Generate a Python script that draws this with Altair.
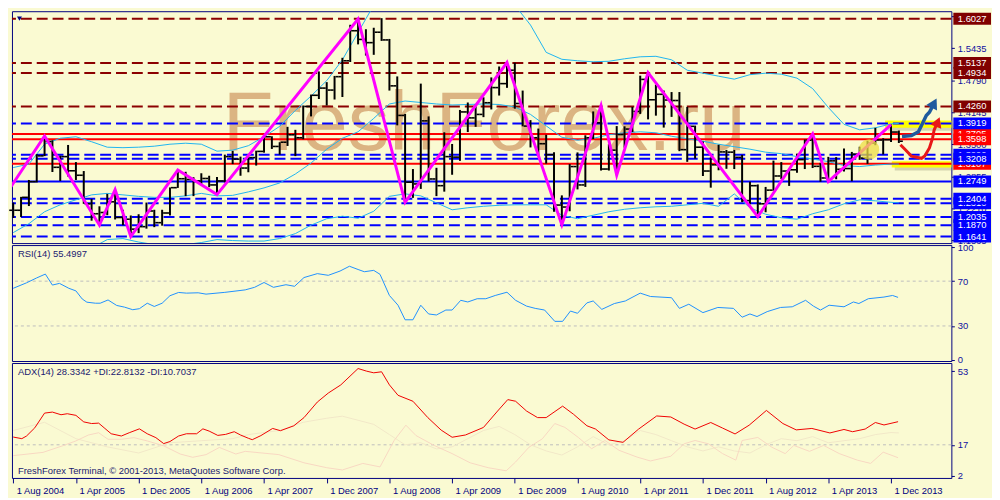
import altair as alt
import pandas as pd

# ---------------- data (EUR/USD, monthly bars, index 0 = Aug 2004) ----------------
bar_index = list(range(114))
opens = [1.2170,1.2170,1.2430,1.2745,1.3265,1.3555,1.3035,1.3250,1.2965,1.2875,
         1.2300,1.2100,1.2125,1.2340,1.2025,1.1990,1.1790,1.1840,1.2155,1.1920,
         1.2115,1.2625,1.2805,1.2790,1.2760,1.2810,1.2680,1.2760,1.3250,1.3200,
         1.3020,1.3230,1.3355,1.3650,1.3455,1.3540,1.3690,1.3630,1.4260,1.4485,
         1.4630,1.4590,1.4860,1.5180,1.5785,1.5610,1.5545,1.5755,1.5600,1.4675,
         1.4080,1.2735,1.2700,1.3970,1.2800,1.2665,1.3250,1.3240,1.4150,1.4030,
         1.4100,1.4335,1.4640,1.4720,1.4990,1.4320,1.3865,1.3630,1.3510,1.3290,
         1.2275,1.2235,1.3050,1.2680,1.3630,1.3930,1.3000,1.3380,1.3695,1.3805,
         1.4160,1.4805,1.4395,1.4505,1.4390,1.4380,1.3390,1.3860,1.3440,1.2960,
         1.3085,1.3345,1.3340,1.3235,1.2365,1.2665,1.2300,1.2575,1.2860,1.2960,
         1.2985,1.3190,1.3580,1.3055,1.2820,1.3165,1.2995,1.3010,1.3300,1.3220,
         1.3525,1.3585,1.3590,1.3745]
highs = [1.2325,1.2440,1.2780,1.3300,1.3667,1.3580,1.3270,1.3485,1.3140,1.2960,
         1.2400,1.2250,1.2500,1.2585,1.2180,1.2065,1.2090,1.2325,1.2180,1.2180,
         1.2630,1.2980,1.2945,1.2835,1.2915,1.2865,1.2840,1.3290,1.3365,1.3250,
         1.3250,1.3370,1.3680,1.3660,1.3540,1.3850,1.3790,1.4280,1.4500,1.4965,
         1.4750,1.4875,1.5240,1.5905,1.6019,1.5815,1.5845,1.6038,1.5620,1.4865,
         1.4110,1.3000,1.4720,1.4060,1.3025,1.3740,1.3505,1.4190,1.4340,1.4300,
         1.4445,1.4845,1.5065,1.5145,1.5140,1.4580,1.3985,1.3815,1.3690,1.3340,
         1.2470,1.3100,1.3335,1.3680,1.4160,1.4280,1.3500,1.3865,1.3860,1.4250,
         1.4880,1.4940,1.4700,1.4580,1.4550,1.4550,1.4250,1.3875,1.3555,1.3235,
         1.3490,1.3385,1.3385,1.3285,1.2745,1.2690,1.2640,1.3170,1.3140,1.3010,
         1.3310,1.3595,1.3710,1.3125,1.3245,1.3240,1.3415,1.3345,1.3450,1.3570,
         1.3830,1.3620,1.3895,1.3775]
lows = [1.2015,1.2035,1.2255,1.2730,1.3260,1.2940,1.2760,1.2850,1.2780,1.2300,
        1.1960,1.1870,1.2070,1.1985,1.1870,1.1640,1.1710,1.1800,1.1830,1.1860,
        1.2065,1.2620,1.2455,1.2455,1.2700,1.2635,1.2485,1.2730,1.3100,1.2865,
        1.2935,1.3070,1.3330,1.3405,1.3290,1.3465,1.3260,1.3600,1.4060,1.4410,
        1.4280,1.4400,1.4450,1.5155,1.5510,1.5285,1.5300,1.5580,1.4580,1.3880,
        1.2330,1.2420,1.2600,1.2750,1.2455,1.2545,1.2885,1.3165,1.3745,1.3850,
        1.4045,1.4200,1.4480,1.4635,1.4215,1.3860,1.3435,1.3265,1.3110,1.2140,
        1.1875,1.2150,1.2590,1.2640,1.3605,1.2970,1.2970,1.2875,1.3430,1.3745,
        1.4110,1.4000,1.4075,1.3835,1.4050,1.3360,1.3145,1.3210,1.2860,1.2625,
        1.2975,1.3005,1.3000,1.2335,1.2290,1.2040,1.2130,1.2560,1.2800,1.2660,
        1.2925,1.3000,1.3020,1.2745,1.2745,1.2795,1.2950,1.2755,1.3185,1.3105,
        1.3480,1.3295,1.3545,1.3525]
closes = [1.2170,1.2430,1.2745,1.3265,1.3555,1.3035,1.3250,1.2965,1.2875,1.2300,
          1.2100,1.2125,1.2340,1.2025,1.1990,1.1790,1.1840,1.2155,1.1920,1.2115,
          1.2625,1.2805,1.2790,1.2760,1.2810,1.2680,1.2760,1.3250,1.3200,1.3020,
          1.3230,1.3355,1.3650,1.3455,1.3540,1.3690,1.3630,1.4260,1.4485,1.4630,
          1.4590,1.4860,1.5180,1.5785,1.5610,1.5545,1.5755,1.5600,1.4675,1.4080,
          1.2735,1.2700,1.3970,1.2800,1.2665,1.3250,1.3240,1.4150,1.4030,1.4100,
          1.4335,1.4640,1.4720,1.4990,1.4320,1.3865,1.3630,1.3510,1.3290,1.2275,
          1.2235,1.3050,1.2680,1.3630,1.3930,1.3000,1.3380,1.3695,1.3805,1.4160,
          1.4805,1.4395,1.4505,1.4390,1.4380,1.3390,1.3860,1.3440,1.2960,1.3085,
          1.3345,1.3340,1.3235,1.2365,1.2665,1.2300,1.2575,1.2860,1.2960,1.2985,
          1.3190,1.3580,1.3055,1.2820,1.3165,1.2995,1.3010,1.3300,1.3220,1.3525,
          1.3585,1.3590,1.3745,1.3560]

zigzag_idx = [-4, 4, 11, 13, 15, 21, 26, 44, 50, 63, 70, 75, 77, 81, 95, 102, 104, 112]
zigzag_price = [1.1760, 1.3667, 1.1870, 1.2585, 1.1640, 1.2980, 1.2485, 1.6019, 1.2330,
                1.5145, 1.1875, 1.4280, 1.2875, 1.4940, 1.2040, 1.3710, 1.2745, 1.3895]

bb_idx = [0,2,4,6,8,10,12,14,16,18,20,22,24,26,28,30,32,34,36,38,40,42,44,46,48,50,52,54,56,
          58,60,62,64,66,68,70,72,74,76,78,80,82,84,86,88,90,92,94,96,98,100,102,104,106,108,
          110,112,113]
bb_upper = [1.303,1.310,1.350,1.362,1.365,1.355,1.344,1.343,1.344,1.346,1.350,1.352,1.350,1.336,
            1.338,1.347,1.365,1.386,1.418,1.447,1.478,1.520,1.575,1.630,1.660,1.690,1.705,1.710,
            1.705,1.695,1.680,1.655,1.630,1.590,1.535,1.521,1.518,1.516,1.517,1.522,1.526,1.527,
            1.520,1.499,1.493,1.487,1.481,1.490,1.493,1.491,1.483,1.462,1.424,1.390,1.379,1.383,
            1.391,1.392]
bb_middle = [1.172,1.190,1.214,1.228,1.238,1.248,1.251,1.248,1.245,1.243,1.243,1.246,1.251,1.246,
             1.247,1.254,1.262,1.272,1.290,1.312,1.340,1.362,1.375,1.402,1.431,1.437,1.434,1.431,
             1.429,1.430,1.431,1.430,1.425,1.410,1.387,1.364,1.358,1.362,1.369,1.373,1.375,1.373,
             1.366,1.361,1.356,1.350,1.345,1.340,1.334,1.331,1.325,1.320,1.315,1.307,1.305,1.308,
             1.310,1.310]
bb_lower = [1.041,1.070,1.078,1.094,1.111,1.141,1.158,1.160,1.153,1.148,1.145,1.148,1.152,1.158,
            1.156,1.155,1.155,1.160,1.170,1.187,1.200,1.205,1.201,1.215,1.245,1.250,1.246,1.232,
            1.218,1.222,1.225,1.227,1.228,1.228,1.228,1.207,1.200,1.207,1.214,1.219,1.222,1.224,
            1.225,1.228,1.231,1.225,1.250,1.222,1.209,1.202,1.199,1.210,1.218,1.230,1.238,1.236,
            1.233,1.232]

levels_darkred_dash = [1.6027, 1.5137, 1.4934, 1.4260]
levels_blue_dash = [1.3919, 1.3290, 1.3208, 1.2404, 1.2310, 1.2035, 1.1870, 1.1641]
levels_red_solid = [1.3705, 1.3598, 1.3107]
levels_blue_solid = [1.2749]

tag_back_price = [1.3705, 1.3290, 1.3107, 1.2310]
tag_back_kind = ["red", "blue", "red", "blue"]
tag_front_price = [1.6027, 1.5137, 1.4934, 1.4260, 1.3919, 1.3598, 1.3208, 1.2749,
                   1.2404, 1.2035, 1.1870, 1.1641]
tag_front_kind = ["darkred", "darkred", "darkred", "darkred", "blue", "red", "blue", "blue",
                  "blue", "blue", "blue", "blue"]

price_axis_values = [1.6080, 1.5435, 1.4790, 1.4145, 1.3500, 1.2855, 1.2210, 1.1565]

# yellow highlight zones and hand-drawn forecast arrows
zone_i1 = [111.25, 112.1]
zone_i2 = [119.7, 119.7]
zone_top = [1.3975, 1.3158]
zone_bottom = [1.3830, 1.3030]
blob_i = [109.2]
blob_price = [1.3393]
blue_arrow_i = [113.4, 114.6, 115.5, 116.1, 116.5, 116.9, 117.5]
blue_arrow_p = [1.3654, 1.3673, 1.3752, 1.3948, 1.4079, 1.4144, 1.4328]
red_arrow_i = [113.2, 113.8, 114.6, 115.9, 116.3, 116.9, 117.3, 117.5, 117.96]
red_arrow_p = [1.3491, 1.3393, 1.3261, 1.3216, 1.3261, 1.3425, 1.3622, 1.3785, 1.3948]

rsi_idx = [0,1.7,3,4.1,5,5.9,7.1,8,8.8,9.4,10.5,11.1,12.1,13.2,14.2,15.25,16.1,17.1,18,19,
           20,21.1,22.1,23.6,24.6,27,29.6,30.8,32,33.2,34.8,35.9,37.1,38.8,40.2,41.7,42.9,44,
           44.8,46,46.8,48,49.1,50,51,52,53,54,55.2,56,57.1,58,59.2,60.3,61.5,63,64.1,65.5,66.6,
           67.8,69.1,70.1,71.1,72,73.2,74,75.1,76.7,78.1,80,81.3,84,85,86.2,88,89.9,91.9,93,94,
           94.9,96.2,97.9,99.4,101.1,102.1,103,104.1,106,107.2,107.9,109.1,111.1,112.2,112.9]
rsi_vals = [63.6,68.5,72.9,76.3,66.5,68,63.6,61.3,54.1,51.2,50.3,50.3,53.2,48.3,46.8,44.5,45.4,
            50.3,47.4,50.3,57,59.9,59.3,59.6,58.4,60,62.2,64.5,68.8,64.5,66.8,65.4,73.2,76.7,
            75.2,79,83.3,80.4,78.4,79.6,76.1,57.2,48.5,35.5,35.5,48.5,40.7,39.8,44.2,44.2,52.9,
            51.4,54.3,54.3,57.2,60.1,52.9,47.7,45.7,44.2,34.1,34.1,43.3,41.3,50.6,52.3,44.8,50,
            52.3,59.3,56.3,55.2,45.7,49.4,41.9,46.5,45.7,37.8,40.7,38.4,42.8,46.5,47.1,52.9,
            47.7,44.2,48.5,47.1,51.4,50,54.3,55.8,57.2,55.5]

adx_idx = [0,1.1,1.7,2.75,4,5,6.1,6.9,8,9,10,10.9,11.7,12.5,13.8,14.8,16.1,17.1,18.2,19.2,
           20,21.1,22.1,23.4,24.2,25,26.1,27.1,28.2,29,30,30.5,31.6,33.1,34.1,35.8,37.1,38.8,
           40.2,41.8,44,45.1,46,47,48,49.1,51,52.9,54.6,56,57.7,60,61.8,63.1,64.1,65.5,66.9,68,
           70.1,71.5,73.2,74.3,76,77.8,79.8,82.1,83.9,85.6,87,89,90.5,92.1,93.9,96.1,98.2,99.9,
           101.9,104.2,106,107.1,108.7,110,111.1,112.9]
adx_vals = [20.8,20,21.3,25.3,32.5,33,31.7,32.2,31.4,28.2,27.4,27.6,25,22.4,21.3,22.9,24.8,22.4,
            20.5,17.6,18.6,21.3,22.4,22.4,24.8,23.7,21.6,22.1,23.4,21.8,20.2,19.5,21.5,25,23.9,
            26.3,30.3,37.9,42.3,46.3,54.3,53,52.2,52.7,46.3,41.2,38.3,30.3,24.2,20.7,21.8,25.5,
            33.5,39.1,38.3,33.5,30.3,30.3,35.9,31.9,26.3,24.7,19.4,18.2,24.7,31.1,30.6,27.1,
            24.7,27.9,25.2,22.3,26.6,33.8,27.4,24.3,25,22.8,24.5,23.4,24.7,27.9,26.7,28.3]

mdi_idx = [0,3.8,6.3,8,9.6,10.9,12.1,13.8,15.4,17.1,19.2,21.3,22.9,24.6,26.3,28.4,29.6,33.9,
           37.1,40,42,44.6,46.8,48.6,50.1,51.4,53.7,56,58.3,60.6,62.9,64.1,65.8,67.5,69.1,70.4,
           72.1,73.8,75.5,77.3,79.6,81.3,83.9,85.6,87,88.7,90.5,92.2,93,95,96.8,98.5,99.6,101.6,
           103.4,105.4,107.7,109.4,111,112.9]
mdi_vals = [11.7,13.3,16.5,18.9,21.8,22.9,19.7,19.7,20.5,18.9,16.5,12.5,10.9,12.2,15.7,12.5,
            13.8,12.2,8.2,5.8,4.7,7.9,6.2,19.1,26.6,21.5,16.7,12.7,8.2,5.8,4.3,8.6,15.8,19.9,
            27.4,25.5,20.6,15.1,19.1,14.3,11,9.1,11.4,17.5,19.1,17.5,12.7,9.5,19.1,20.6,15.8,
            12.7,16.7,13.8,16.7,12.7,9.5,7.9,13.4,10.7]
pdi_idx = [0,4,8,12,16,20,24,28,30,34,37,40,42,44,46,48,50,52,54,56,58,60,62,64,66,68,70,72,
           74,76,78,80,82,84,86,88,90,92,94,96,98,100,102,104,106,108,110,112,113]
pdi_vals = [24,28,20,16,13,18,19,20,22,24,28,30,31,29,27,22,17,18,15,16,20,24,26,22,17,14,12,
            16,21,17,19,24,22,19,16,14,16,14,13,17,20,19,21,18,19,20,22,23,22.8]

x_tick_idx = list(range(0, 113, 8))
x_tick_labels = ["1 Aug 2004", "1 Apr 2005", "1 Dec 2005", "1 Aug 2006", "1 Apr 2007",
                 "1 Dec 2007", "1 Aug 2008", "1 Apr 2009", "1 Dec 2009", "1 Aug 2010",
                 "1 Apr 2011", "1 Dec 2011", "1 Aug 2012", "1 Apr 2013", "1 Dec 2013"]

rsi_title = "RSI(14) 55.4997"
adx_title = "ADX(14) 28.3342 +DI:22.8132 -DI:10.7037"
footer = "FreshForex Terminal, \u00a9 2001-2013, MetaQuotes Software Corp."
watermark = "FreshForex.ru"

# ---------------- styling ----------------
W, H1, H2, H3 = 948, 234, 117, 116
FONT = "Liberation Sans"
NAVY = "#000080"
BG = "#FAFAD2"

xscale = alt.Scale(domain=[-0.16, 119.7], nice=False, zero=False)
label_expr = "[" + ",".join("'" + s + "'" for s in x_tick_labels) + "][round(datum.value/8)]"
x_axis = alt.Axis(values=x_tick_idx, labelExpr=label_expr, orient="bottom", domain=False,
                  grid=False, ticks=True, tickSize=5, tickColor=NAVY, labelColor=NAVY,
                  labelAlign="left", labelBaseline="top", labelOffset=3, labelPadding=3,
                  labelFont=FONT, labelFontSize=9.5, labelOverlap=False, labelBound=False,
                  labelFlush=False, title=None)


def X(field, show=False):
    return alt.X(f"{field}:Q", scale=xscale, axis=x_axis if show else None, title=None)


pscale = alt.Scale(domain=[1.1509, 1.6178], nice=False, zero=False)
p_axis = alt.Axis(values=price_axis_values, format=".4f", orient="right", domain=False,
                  grid=False, tickSize=3, tickColor=NAVY, labelColor="#1010A0", labelFont=FONT,
                  labelFontSize=9.5, labelPadding=3, labelFlush=False, labelBound=False,
                  labelOverlap=False, title=None, zindex=0)


def PY(field):
    return alt.Y(f"{field}:Q", scale=pscale, axis=p_axis, title=None)


# ---------------- price panel ----------------
ohlc = pd.DataFrame({"i": bar_index, "o": opens, "h": highs, "l": lows, "c": closes})
zz = pd.DataFrame({"i": zigzag_idx, "p": zigzag_price})
bb = pd.concat([
    pd.DataFrame({"i": bb_idx, "p": bb_upper, "band": "upper"}),
    pd.DataFrame({"i": bb_idx, "p": bb_middle, "band": "middle"}),
    pd.DataFrame({"i": bb_idx, "p": bb_lower, "band": "lower"}),
])

wm = alt.Chart(pd.DataFrame({"i": [26.75], "p": [1.3393], "t": [watermark]})).mark_text(
    align="left", baseline="alphabetic", font=FONT, fontSize=84, color="#DBB482"
).encode(x=X("i"), y=PY("p"), text="t:N")


def level_layer(vals, color, dash):
    kw = dict(color=color, strokeWidth=2)
    if dash:
        kw["strokeDash"] = [11, 5]
    return alt.Chart(pd.DataFrame({"p": vals})).mark_rule(**kw).encode(y=PY("p"))


lv1 = level_layer(levels_darkred_dash, "#8B0000", True)
lv2 = level_layer(levels_blue_dash, "#0000FF", True)
lv3 = level_layer(levels_red_solid, "#FF0000", False)
lv4 = level_layer(levels_blue_solid, "#0000FF", False)

zone_df = pd.DataFrame({"a": zone_i1, "b": zone_i2, "t": zone_top, "u": zone_bottom})
zone_shadow = alt.Chart(zone_df).mark_rect(
    color="#8C8C70", opacity=0.35, xOffset=3, x2Offset=3, yOffset=3, y2Offset=3
).encode(x=X("a"), x2="b:Q", y=PY("t"), y2="u:Q")
zones = alt.Chart(zone_df).mark_rect(color="#FFFF00", opacity=1).encode(
    x=X("a"), x2="b:Q", y=PY("t"), y2="u:Q")

blob = alt.Chart(pd.DataFrame({"i": blob_i, "p": blob_price})).mark_point(
    shape="circle", filled=True, color="#EEDD44", opacity=0.75, size=420
).encode(x=X("i"), y=PY("p"))

bands = alt.Chart(bb).mark_line(color="#1EB4F0", strokeWidth=1, clip=True).encode(
    x=X("i"), y=PY("p"), detail="band:N")

hl = alt.Chart(ohlc).mark_rule(color="black", strokeWidth=2).encode(
    x=X("i"), y=PY("l"), y2="h:Q")
op = alt.Chart(ohlc).mark_tick(orient="horizontal", color="black", size=3, thickness=1.6,
                               opacity=1, xOffset=-2.5).encode(x=X("i"), y=PY("o"))
cl = alt.Chart(ohlc).mark_tick(orient="horizontal", color="black", size=3, thickness=1.6,
                               opacity=1, xOffset=2.5).encode(x=X("i"), y=PY("c"))

zig = alt.Chart(zz).mark_line(color="#FF00FF", strokeWidth=3, clip=True).encode(
    x=X("i"), y=PY("p"))

blue_arr = alt.Chart(pd.DataFrame({"i": blue_arrow_i, "p": blue_arrow_p})).mark_line(
    color="#1F5A9E", strokeWidth=3.5).encode(x=X("i"), y=PY("p"))
blue_head = alt.Chart(pd.DataFrame({"i": blue_arrow_i[-1:], "p": blue_arrow_p[-1:]})).mark_point(
    shape="triangle-up", filled=True, color="#1F5A9E", opacity=1, size=150, angle=28
).encode(x=X("i"), y=PY("p"))
red_arr = alt.Chart(pd.DataFrame({"i": red_arrow_i, "p": red_arrow_p})).mark_line(
    color="#E81818", strokeWidth=3).encode(x=X("i"), y=PY("p"))
red_head = alt.Chart(pd.DataFrame({"i": red_arrow_i[-1:], "p": red_arrow_p[-1:]})).mark_point(
    shape="triangle-up", filled=True, color="#E81818", opacity=1, size=140, angle=22
).encode(x=X("i"), y=PY("p"))

marker = alt.Chart(pd.DataFrame({"i": [0.8], "p": [1.6027]})).mark_point(
    shape="triangle-down", filled=True, color=NAVY, opacity=1, size=25
).encode(x=X("i"), y=PY("p"))

tag_scale = alt.Scale(domain=["darkred", "red", "blue"], range=["#800000", "#FF0000", "#0000FF"])


def tag_layers(prices, kinds):
    d = pd.DataFrame({"p": prices, "k": kinds})
    box = alt.Chart(d).mark_tick(orient="horizontal", size=38, thickness=12, opacity=1).encode(
        x=alt.value(W + 21), y=PY("p"), color=alt.Color("k:N", scale=tag_scale, legend=None))
    txt = alt.Chart(d).mark_text(align="center", baseline="middle", color="white", font=FONT,
                                 fontSize=9.5).encode(
        x=alt.value(W + 21), y=PY("p"), text=alt.Text("p:Q", format=".4f"))
    return [box, txt]


price_panel = alt.layer(
    wm, zone_shadow, zones, lv1, lv2, lv3, lv4, bands, hl, op, cl, zig, blob,
    blue_arr, blue_head, red_arr, red_head, marker,
    *tag_layers(tag_back_price, tag_back_kind),
    *tag_layers(tag_front_price, tag_front_kind),
).properties(width=W, height=H1)

# ---------------- RSI panel ----------------
rscale = alt.Scale(domain=[-1.3, 102.2], nice=False, zero=False)
r_axis = alt.Axis(values=[0, 30, 70, 100], orient="right", domain=False, grid=False, tickSize=3,
                  tickColor=NAVY, labelColor="#1010A0", labelFont=FONT, labelFontSize=9.5,
                  labelPadding=3, labelFlush=True, labelOverlap=False, title=None)


def RY(field):
    return alt.Y(f"{field}:Q", scale=rscale, axis=r_axis, title=None)


rsi_levels = alt.Chart(pd.DataFrame({"v": [70, 30]})).mark_rule(
    color="#BDBDBD", strokeDash=[3, 3], strokeWidth=1).encode(y=RY("v"))
rsi_line = alt.Chart(pd.DataFrame({"i": rsi_idx, "v": rsi_vals})).mark_line(
    color="#1E90FF", strokeWidth=1).encode(x=X("i"), y=RY("v"))
rsi_txt = alt.Chart(pd.DataFrame({"t": [rsi_title]})).mark_text(
    align="left", baseline="middle", font=FONT, fontSize=9.5, color="#202070").encode(
    x=alt.value(6), y=alt.value(9), text="t:N")
rsi_panel = alt.layer(rsi_levels, rsi_line, rsi_txt).properties(width=W, height=H2)

# ---------------- ADX panel ----------------
ascale = alt.Scale(domain=[0.8, 57], nice=False, zero=False)
a_axis = alt.Axis(values=[2, 17, 53], orient="right", domain=False, grid=False, tickSize=3,
                  tickColor=NAVY, labelColor="#1010A0", labelFont=FONT, labelFontSize=9.5,
                  labelPadding=3, labelFlush=False, labelOverlap=False, title=None)


def AY(field):
    return alt.Y(f"{field}:Q", scale=ascale, axis=a_axis, title=None)


adx_level = alt.Chart(pd.DataFrame({"v": [17]})).mark_rule(
    color="#BDBDBD", strokeDash=[3, 3], strokeWidth=1).encode(y=AY("v"))
pdi_line = alt.Chart(pd.DataFrame({"i": pdi_idx, "v": pdi_vals})).mark_line(
    color="#F2E8C8", strokeWidth=1).encode(x=X("i", True), y=AY("v"))
mdi_line = alt.Chart(pd.DataFrame({"i": mdi_idx, "v": mdi_vals})).mark_line(
    color="#F8D8C2", strokeWidth=1).encode(x=X("i", True), y=AY("v"))
adx_line = alt.Chart(pd.DataFrame({"i": adx_idx, "v": adx_vals})).mark_line(
    color="#F00000", strokeWidth=1).encode(x=X("i", True), y=AY("v"))
adx_txt = alt.Chart(pd.DataFrame({"t": [adx_title]})).mark_text(
    align="left", baseline="middle", font=FONT, fontSize=9.5, color="#202070").encode(
    x=alt.value(6), y=alt.value(9), text="t:N")
foot_txt = alt.Chart(pd.DataFrame({"t": [footer]})).mark_text(
    align="left", baseline="middle", font=FONT, fontSize=9.5, color="#202070").encode(
    x=alt.value(6), y=alt.value(H3 - 7), text="t:N")
adx_panel = alt.layer(adx_level, pdi_line, mdi_line, adx_line, adx_txt, foot_txt).properties(
    width=W, height=H3)

chart = alt.vconcat(price_panel, rsi_panel, adx_panel, spacing=2, bounds="flush").properties(
    background=BG, padding={"left": 0, "top": 0, "right": 0, "bottom": 0}
).configure_view(stroke=NAVY, strokeWidth=1, fill=BG).configure_axis(zindex=0)

chart.save("out.html", embed_options={"renderer": "svg", "actions": False})
